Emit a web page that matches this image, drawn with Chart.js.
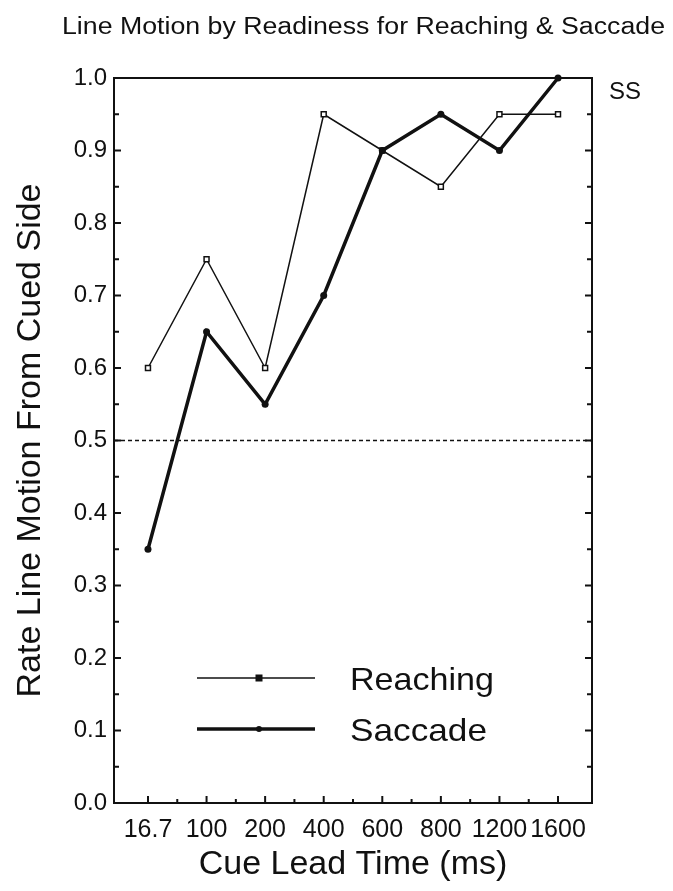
<!DOCTYPE html>
<html>
<head>
<meta charset="utf-8">
<script src="https://cdn.jsdelivr.net/npm/chart.js@4.4.1/dist/chart.umd.min.js"></script>
<style>
  html, body { margin: 0; padding: 0; background: #fff; }
  #wrap { width: 673px; height: 891px; position: relative; }
</style>
</head>
<body>
<div id="wrap"><canvas id="c" width="673" height="891"></canvas></div>
<script>
// ---- data ----
const chartTitle = "Line Motion by Readiness for Reaching & Saccade";
const subjectLabel = "SS";
const xLabels = ["16.7", "100", "200", "400", "600", "800", "1200", "1600"];
const reaching = [0.60, 0.75, 0.60, 0.95, 0.90, 0.85, 0.95, 0.95];
const saccade  = [0.35, 0.65, 0.55, 0.70, 0.90, 0.95, 0.90, 1.00];
const yTicks = [0.0, 0.1, 0.2, 0.3, 0.4, 0.5, 0.6, 0.7, 0.8, 0.9, 1.0];
const chanceLevel = 0.5;
const xAxisTitle = "Cue Lead Time (ms)";
const yAxisTitle = "Rate Line Motion From Cued Side";

const FONT = "'Liberation Sans', Arial, Helvetica, sans-serif";

function toPoints(arr) { return arr.map((v, i) => ({ x: i, y: v })); }

function stretchedText(ctx, text, x, y, size, targetW) {
  ctx.save();
  ctx.font = size + "px " + FONT;
  const w = ctx.measureText(text).width;
  const s = targetW ? targetW / w : 1;
  ctx.translate(x, y);
  ctx.scale(s, 1);
  ctx.fillText(text, 0, 0);
  ctx.restore();
}

const framePlugin = {
  id: 'frame',
  beforeDatasetsDraw(chart) {
    const { ctx, chartArea: a, scales } = chart;
    const ys = scales.y;
    ctx.save();
    const yc = ys.getPixelForValue(chanceLevel);
    ctx.strokeStyle = '#111';
    ctx.lineWidth = 1.5;
    ctx.setLineDash([4, 3]);
    ctx.beginPath();
    ctx.moveTo(a.left, yc);
    ctx.lineTo(a.right, yc);
    ctx.stroke();
    ctx.setLineDash([]);
    ctx.restore();
  },
  afterDatasetsDraw(chart) {
    const { ctx, chartArea: a, scales } = chart;
    const xs = scales.x, ys = scales.y;
    ctx.save();
    ctx.strokeStyle = '#111';
    ctx.lineWidth = 2;
    ctx.strokeRect(a.left, a.top, a.right - a.left, a.bottom - a.top);
    for (let k = 0; k <= 20; k++) {
      const v = k * 0.05;
      const py = ys.getPixelForValue(v);
      const len = (k % 2 === 0) ? 7 : 5;
      ctx.beginPath();
      ctx.moveTo(a.left, py); ctx.lineTo(a.left + len, py);
      ctx.moveTo(a.right, py); ctx.lineTo(a.right - len, py);
      ctx.stroke();
    }
    for (let k = 0; k < xLabels.length * 2 - 1; k++) {
      const v = k / 2;
      const px = xs.getPixelForValue(v);
      const len = (k % 2 === 0) ? 7 : 4;
      ctx.beginPath();
      ctx.moveTo(px, a.bottom); ctx.lineTo(px, a.bottom - len);
      ctx.stroke();
    }
    ctx.fillStyle = '#111';
    ctx.textBaseline = 'middle';
    ctx.textAlign = 'left';
    stretchedText(ctx, chartTitle, 62, 28, 23, 603);
    stretchedText(ctx, subjectLabel, 609, 92, 24, 0);
    const ds = chart.data.datasets;
    const rows = [678, 729];
    ds.forEach((d, i) => {
      const y = rows[i];
      ctx.strokeStyle = d.borderColor;
      ctx.lineWidth = d.borderWidth;
      ctx.beginPath();
      ctx.moveTo(197, y); ctx.lineTo(315, y);
      ctx.stroke();
      ctx.fillStyle = '#111';
      if (d.pointStyle === 'rect') {
        ctx.fillRect(255.5, y - 3.5, 7, 7);
      } else {
        ctx.beginPath();
        ctx.arc(259, y, 3, 0, Math.PI * 2);
        ctx.fill();
      }
      ctx.textBaseline = 'middle';
      stretchedText(ctx, d.label, 350, y + 3, 32, i === 0 ? 144 : 137);
    });
    ctx.restore();
  }
};

new Chart(document.getElementById('c'), {
  type: 'line',
  data: {
    datasets: [
      {
        label: 'Reaching',
        data: toPoints(reaching),
        borderColor: '#111',
        borderWidth: 1.5,
        pointStyle: 'rect',
        pointRadius: 3.5,
        pointBackgroundColor: '#fff',
        pointBorderColor: '#111',
        pointBorderWidth: 1.5,
        tension: 0,
        fill: false,
        clip: false,
        order: 2
      },
      {
        label: 'Saccade',
        data: toPoints(saccade),
        borderColor: '#111',
        borderWidth: 3.5,
        pointStyle: 'circle',
        pointRadius: 3.5,
        pointBackgroundColor: '#111',
        pointBorderColor: '#111',
        pointBorderWidth: 0,
        tension: 0,
        fill: false,
        clip: false,
        order: 1
      }
    ]
  },
  options: {
    responsive: false,
    animation: false,
    layout: { padding: { top: 78, right: 81, left: 0, bottom: 0 } },
    plugins: { legend: { display: false }, title: { display: false }, tooltip: { enabled: false } },
    scales: {
      x: {
        type: 'linear',
        min: -0.58,
        max: 7.58,
        grid: { display: false, drawTicks: false },
        border: { display: false },
        afterBuildTicks: (s) => { s.ticks = xLabels.map((_, i) => ({ value: i })); },
        afterFit: (s) => { s.height = 88; },
        ticks: {
          autoSkip: false, maxRotation: 0, minRotation: 0, padding: 12,
          color: '#111',
          font: { family: FONT, size: 25 },
          callback: (v) => xLabels[v]
        },
        title: {
          display: true, text: xAxisTitle, color: '#111',
          font: { family: FONT, size: 34 },
          padding: { top: 0, bottom: 6 }
        }
      },
      y: {
        min: 0, max: 1,
        grid: { display: false, drawTicks: false },
        border: { display: false },
        afterBuildTicks: (s) => { s.ticks = yTicks.map(v => ({ value: v })); },
        afterFit: (s) => { s.width = 114; },
        ticks: {
          padding: 7, color: '#111',
          font: { family: FONT, size: 24 },
          callback: (v) => Number(v).toFixed(1)
        },
        title: {
          display: true, text: yAxisTitle, color: '#111',
          font: { family: FONT, size: 34 },
          padding: { top: 10, bottom: 0 }
        }
      }
    }
  },
  plugins: [framePlugin]
});
</script>
</body>
</html>
